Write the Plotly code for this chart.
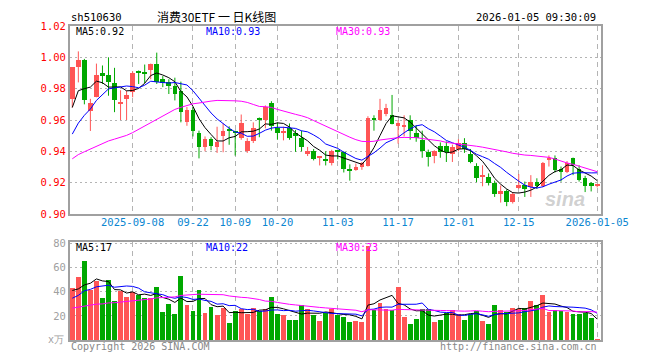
import pandas as pd
import plotly.graph_objects as go

# ---------------- data ----------------
symbol = "sh510630"
title_text = "消费30ETF 一 日K线图"
timestamp = "2026-01-05 09:30:09"

# closes of the 29 sessions before the first visible day (only feed the moving averages)
warmup_close = [0.917, 0.919, 0.920, 0.932, 0.936, 0.937, 0.938, 0.939, 0.937, 0.937,
                0.928, 0.926, 0.924, 0.922, 0.918, 0.918, 0.922, 0.925, 0.926, 0.926,
                0.928, 0.923, 0.9308, 0.9335, 0.9547, 0.9445, 0.9665, 0.9658, 0.9695]
warmup_volume = [30, 28, 26, 27, 29, 25, 27, 26, 28, 24,
                 20, 18, 17, 16, 18, 17, 18, 17, 18, 17,
                 29, 28, 30, 28, 26, 46, 49.2, 35, 31.4]

open_ = [0.9735, 0.9937, 0.9985, 0.9655, 0.975, 0.9898, 0.9885, 0.9835, 0.970, 0.9735,
         0.978, 0.9912, 0.9898, 0.9919, 0.996, 0.986, 0.984, 0.982, 0.9787, 0.9585,
         0.9667, 0.9518, 0.9428, 0.9478, 0.9428, 0.9499, 0.9535, 0.9533, 0.9484, 0.9401,
         0.9468, 0.9616, 0.9603, 0.971, 0.9547, 0.9516, 0.9547, 0.9516, 0.9484, 0.938,
         0.9399, 0.9362, 0.935, 0.9328, 0.9407, 0.9395, 0.9286, 0.928, 0.9303, 0.9307,
         0.9616, 0.960, 0.9636, 0.963, 0.9562, 0.9557, 0.9603, 0.9516, 0.9474, 0.9395,
         0.937, 0.9432, 0.9432, 0.9386, 0.9415, 0.9453, 0.9384, 0.9307, 0.9238, 0.9238,
         0.9198, 0.913, 0.9146, 0.9077, 0.9165, 0.9186, 0.9171, 0.9207, 0.9177, 0.9349,
         0.936, 0.9286, 0.9265, 0.936, 0.9286, 0.9228, 0.9198, 0.918]
high = [0.9937, 1.0038, 0.999, 0.9735, 0.996, 0.9948, 1.000, 0.9933, 0.979, 0.9787,
        0.991, 0.9916, 0.9954, 0.996, 1.003, 0.988, 0.986, 0.987, 0.9845, 0.9683,
        0.9683, 0.9532, 0.9495, 0.949, 0.9557, 0.9578, 0.956, 0.9533, 0.9635, 0.9484,
        0.9585, 0.9616, 0.9693, 0.972, 0.9585, 0.9557, 0.9578, 0.9537, 0.9532, 0.9428,
        0.9415, 0.9365, 0.940, 0.941, 0.9411, 0.940, 0.9317, 0.9322, 0.9332, 0.9624,
        0.963, 0.9735, 0.9703, 0.976, 0.960, 0.963, 0.963, 0.9568, 0.9532, 0.9411,
        0.9407, 0.9457, 0.9463, 0.9443, 0.9478, 0.9484, 0.9415, 0.9324, 0.9311, 0.9259,
        0.9213, 0.9182, 0.9157, 0.914, 0.9255, 0.9207, 0.9248, 0.9228, 0.9332, 0.9374,
        0.9374, 0.9303, 0.9338, 0.936, 0.9311, 0.9244, 0.9203, 0.919]
low = [0.968, 0.984, 0.970, 0.953, 0.9745, 0.983, 0.9755, 0.965, 0.960, 0.960,
       0.9745, 0.983, 0.9835, 0.986, 0.983, 0.981, 0.9766, 0.9725, 0.9585, 0.9563,
       0.9495, 0.9355, 0.940, 0.9407, 0.939, 0.9394, 0.9442, 0.9373, 0.9474, 0.939,
       0.9453, 0.949, 0.9547, 0.9532, 0.9474, 0.947, 0.9474, 0.9397, 0.940, 0.937,
       0.9342, 0.931, 0.931, 0.931, 0.9349, 0.9265, 0.9213, 0.9276, 0.9282, 0.9303,
       0.9532, 0.9595, 0.9624, 0.9572, 0.9449, 0.9495, 0.9474, 0.9461, 0.9359, 0.9303,
       0.9324, 0.9359, 0.9332, 0.9332, 0.940, 0.939, 0.9324, 0.9203, 0.9177, 0.9182,
       0.9109, 0.9073, 0.905, 0.9067, 0.916, 0.9109, 0.9109, 0.916, 0.9171, 0.9303,
       0.9265, 0.9207, 0.9261, 0.9248, 0.9207, 0.914, 0.9144, 0.917]
close = [0.9937, 0.998, 0.973, 0.9708, 0.9885, 0.9887, 0.984, 0.973, 0.9714, 0.976,
         0.9898, 0.9906, 0.9895, 0.996, 0.984, 0.9835, 0.982, 0.9766, 0.965, 0.9667,
         0.9532, 0.9428, 0.9478, 0.9432, 0.9461, 0.9532, 0.9530, 0.952, 0.9578, 0.9468,
         0.9547, 0.960, 0.9683, 0.9562, 0.9516, 0.953, 0.9484, 0.9495, 0.9428, 0.9399,
         0.9349, 0.9365, 0.934, 0.940, 0.9399, 0.9286, 0.928, 0.9297, 0.9324, 0.9616,
         0.960, 0.9666, 0.9678, 0.9574, 0.9582, 0.9568, 0.9532, 0.9484, 0.940, 0.9363,
         0.9401, 0.9395, 0.9395, 0.9426, 0.9453, 0.9415, 0.9334, 0.923, 0.9248, 0.9198,
         0.913, 0.9146, 0.9077, 0.913, 0.9186, 0.9161, 0.9207, 0.9177, 0.9328, 0.936,
         0.9282, 0.9265, 0.9328, 0.9311, 0.9219, 0.9177, 0.9177, 0.9182]
volume = [43.4, 52.5, 65.7, 42, 49.2, 35.2, 50, 32.4, 40.7, 36,
          40.1, 37.9, 35.2, 35.2, 44.2, 23.6, 30.5, 22, 53.3, 29.7,
          24.4, 41.8, 22.8, 27.7, 21.1, 26.9, 14.8, 24.4, 25.8, 22.2,
          26.9, 24.2, 25.8, 36, 22, 21.1, 17.3, 17.3, 29.7, 25.8,
          21.4, 16.5, 22.8, 25.8, 20.9, 19.5, 15.4, 16.2, 15.4, 78,
          25, 31, 25.8, 25, 44.2, 19.5, 14, 18.1, 25.8, 25.8,
          15.4, 17.3, 22.8, 25, 22.2, 17.3, 22.2, 24.2, 15.9, 14,
          29.7, 25, 23.6, 26.9, 25.8, 26.9, 32.7, 29.7, 37.9, 23.6,
          25, 24.2, 23.6, 22.2, 22.2, 22.8, 18.9, 0.8]

tick_index = [10, 20, 27, 34, 44, 54, 64, 74, 87]
tick_labels = ["2025-09-08", "09-22", "10-09", "10-20", "11-03", "11-17", "12-01", "12-15", "2026-01-05"]
price_ticks = [0.90, 0.92, 0.94, 0.96, 0.98, 1.00, 1.02]
volume_ticks = [20, 40, 60, 80]

# ---------------- styles ----------------
RED = "#ff5555"
GREEN = "#00a800"
MA_COLORS = {5: "#000000", 10: "#0000ff", 30: "#ff00ff"}
MONO = "DejaVu Sans Mono"
GRID = "#b4b4b4"
FRAME = "#a0a0a0"

n = len(close)
idx = list(range(n))
nw = len(warmup_close)

ma_price = {k: pd.Series(warmup_close + close).rolling(k).mean().tolist()[nw:] for k in (5, 10, 30)}
ma_vol = {k: pd.Series(warmup_volume + volume).rolling(k).mean().tolist()[nw:] for k in (5, 10, 30)}

up = [c >= o for o, c in zip(open_, close)]

fig = go.Figure()

for flag, color in ((True, RED), (False, GREEN)):
    ii = [i for i in idx if up[i] == flag]
    wx, wy = [], []
    for i in ii:
        wx += [i, i, None]
        wy += [low[i], high[i], None]
    fig.add_trace(go.Scatter(x=wx, y=wy, mode="lines", line=dict(color=color, width=1),
                             hoverinfo="skip", xaxis="x", yaxis="y"))
    fig.add_trace(go.Bar(x=ii, y=[max(abs(close[i] - open_[i]), 0.0007) for i in ii],
                         base=[min(open_[i], close[i]) for i in ii], width=0.78,
                         marker=dict(color=color, line=dict(width=0)), xaxis="x", yaxis="y"))
    fig.add_trace(go.Bar(x=ii, y=[volume[i] for i in ii], width=0.8,
                         marker=dict(color=color, line=dict(width=0)), xaxis="x2", yaxis="y2"))

for k in (5, 10, 30):
    fig.add_trace(go.Scatter(x=idx, y=ma_price[k], mode="lines",
                             line=dict(color=MA_COLORS[k], width=1), xaxis="x", yaxis="y"))
    fig.add_trace(go.Scatter(x=idx, y=ma_vol[k], mode="lines",
                             line=dict(color=MA_COLORS[k], width=1), xaxis="x2", yaxis="y2"))

# The page body has an 8px margin, so the figure is sized to fit the window after it.
OFF = 8
W, H = 660 - OFF, 360 - OFF
# plot area in window pixels: x 70..601, y 21..340
L, R, T, B = 70 - OFF, W - (601 - OFF), 21 - OFF, H - (340 - OFF)

def px(x): return (x - OFF - L) / (W - L - R)
def py(y): return (H - B - (y - OFF)) / (H - T - B)

def note(text, x, y, color, size=10, anchor="left", font=MONO, **kw):
    fig.add_annotation(text=text, x=px(x), y=py(y), xref="paper", yref="paper",
                       xanchor=anchor, yanchor="middle", showarrow=False,
                       font=dict(family=font, size=size, color=color), **kw)

note(symbol, 69, 12, "#000000", 10.5)
note(title_text, 216, 11, "#000000", 12, anchor="center", font="Noto Sans CJK SC")
note(timestamp, 598, 12, "#000000", 10.5, anchor="right")
note(f"MA5:{ma_price[5][-1]:.2f}", 74, 27, MA_COLORS[5])
note(f"MA10:{ma_price[10][-1]:.2f}", 204, 27, MA_COLORS[10])
note(f"MA30:{ma_price[30][-1]:.2f}", 334, 27, MA_COLORS[30])
note(f"MA5:{ma_vol[5][-1]:.0f}", 74, 246, MA_COLORS[5])
note(f"MA10:{ma_vol[10][-1]:.0f}", 204, 246, MA_COLORS[10])
note(f"MA30:{ma_vol[30][-1]:.0f}", 334, 246, MA_COLORS[30])
note("x万", 66, 339, "#a0a0a0", 10, anchor="right")
note("Copyright 2026 SINA.COM", 69, 347, "#888888", 10)
note("http://finance.sina.com.cn", 599, 347, "#888888", 10, anchor="right")
note("<b><i>sina</i></b>", 565, 197, "rgba(150,150,150,0.45)", 20, anchor="center", font="Liberation Sans")

xcommon = dict(range=[-0.38, 87.63], tickmode="array", tickvals=tick_index, ticktext=tick_labels,
               showgrid=True, gridcolor=GRID, gridwidth=1, griddash="5px,4px",
               showline=True, mirror=True, linecolor=FRAME, linewidth=2, ticks="",
               zeroline=False, fixedrange=True)
ycommon = dict(showgrid=True, gridcolor=GRID, gridwidth=1, griddash="2px,3px",
               showline=True, mirror=True, linecolor=FRAME, linewidth=2, ticks="",
               zeroline=False, fixedrange=True)

price_bottom = (340 - 212) / (340 - 21)
vol_top = (340 - 240) / (340 - 21)

fig.update_layout(
    width=W, height=H, margin=dict(l=L, r=R, t=T, b=B),
    paper_bgcolor="white", plot_bgcolor="white", showlegend=False,
    barmode="overlay", bargap=0,
    xaxis=dict(**xcommon, anchor="y", domain=[0, 1], ticklabelstandoff=-3,
               tickfont=dict(family=MONO, size=10.5, color="#0b86d1")),
    xaxis2=dict(**xcommon, anchor="y2", domain=[0, 1], showticklabels=False, matches="x"),
    yaxis=dict(**ycommon, domain=[price_bottom, 1], range=[0.90, 1.02], tickvals=price_ticks,
               ticktext=[f"{v:.2f}" for v in price_ticks],
               tickfont=dict(family=MONO, size=10.5, color="#ff0000")),
    yaxis2=dict(**ycommon, domain=[0, vol_top], range=[0, 81.5], tickvals=volume_ticks,
                ticktext=[str(v) for v in volume_ticks],
                tickfont=dict(family=MONO, size=10.5, color="#a0a0a0")),
)

fig.write_html("out.html", config={"displayModeBar": False})
